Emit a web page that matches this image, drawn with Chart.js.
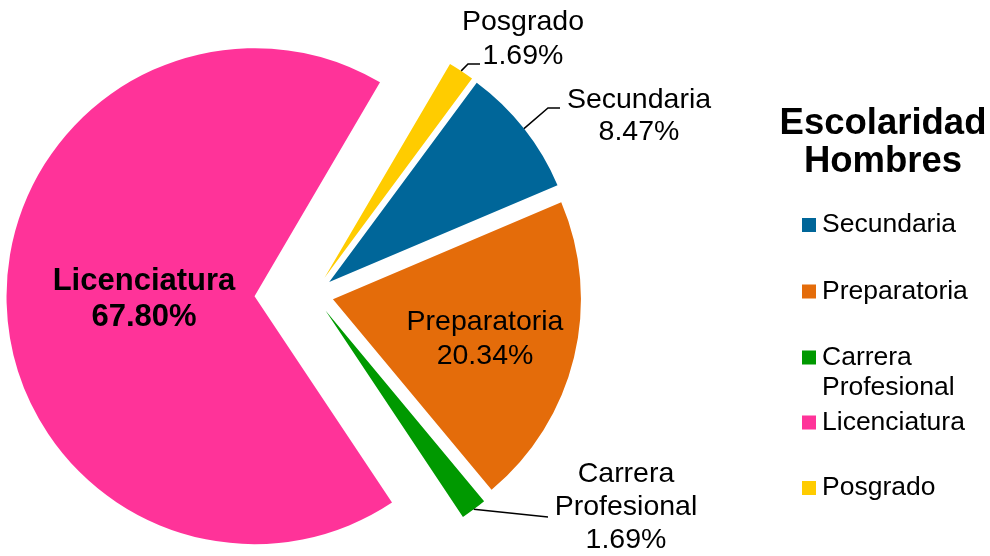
<!DOCTYPE html>
<html><head><meta charset="utf-8">
<script src="https://cdn.jsdelivr.net/npm/chart.js@4/dist/chart.umd.min.js"></script>
<style>html,body{margin:0;padding:0;background:#fff;}#wrap{width:990px;height:556px;}</style>
</head><body><div id="wrap"><canvas id="c" width="990" height="556"></canvas></div>
<script>
// ---- data ----
const categories = ['Secundaria', 'Preparatoria', 'Carrera Profesional', 'Licenciatura', 'Posgrado'];
const counts = [5, 12, 1, 40, 1];
const legendTitle = ['Escolaridad', 'Hombres'];

// ---- style ----
const colors = ['#006699', '#E46C0A', '#009900', '#FF3399', '#FFCC00'];
const FONT = '"Liberation Sans", Arial, sans-serif';
const explode = [20, 20, 20, 59, 20];
const labelLayout = [
  {x: 639, y: 100, size: 28.5, bold: false, gap: 32.5, leader: [[548, 108], [560, 108]]},
  {x: 485, y: 322.5, size: 28.5, bold: false, gap: 33.5, leader: null},
  {x: 626, y: 474, size: 28.5, bold: false, gap: 33, leader: [[548, 517]]},
  {x: 144, y: 281, size: 31, bold: true, gap: 36.5, leader: null},
  {x: 523, y: 22.5, size: 28.5, bold: false, gap: 34, leader: [[468, 64], [480, 64]]}
];
const legendLayout = {titleX: 883, titleY: 124, titleGap: 38, titleSize: 36.5,
  boxX: 802, box: 14, textX: 822, ys: [225, 291.5, 357.5, 422.5, 488], size: 26.5, lineGap: 30};

const total = counts.reduce((a, b) => a + b, 0);
const pct = v => (v / total * 100).toFixed(2) + '%';

const explodePlugin = {
  id: 'explode',
  beforeDatasetDraw(chart, args) {
    const ctx = chart.ctx;
    args.meta.data.forEach((arc, i) => {
      const h = (arc.startAngle + arc.endAngle) / 2;
      ctx.save();
      ctx.translate(Math.cos(h) * explode[i], Math.sin(h) * explode[i]);
      arc.draw(ctx);
      ctx.restore();
    });
    return false;
  }
};

const labelPlugin = {
  id: 'labels',
  afterDraw(chart) {
    const ctx = chart.ctx;
    const meta = chart.getDatasetMeta(0);
    ctx.save();
    meta.data.forEach((arc, i) => {
      const L = labelLayout[i];
      const h = (arc.startAngle + arc.endAngle) / 2;
      if (L.leader) {
        const sx = arc.x + Math.cos(h) * (explode[i] + arc.outerRadius);
        const sy = arc.y + Math.sin(h) * (explode[i] + arc.outerRadius);
        ctx.beginPath();
        ctx.moveTo(sx, sy);
        L.leader.forEach(p => ctx.lineTo(p[0], p[1]));
        ctx.strokeStyle = '#000';
        ctx.lineWidth = 1.5;
        ctx.stroke();
      }
      const lines = categories[i].split(' ').concat([pct(counts[i])]);
      ctx.fillStyle = '#000';
      ctx.font = (L.bold ? 'bold ' : '') + L.size + 'px ' + FONT;
      ctx.textAlign = 'center';
      ctx.textBaseline = 'middle';
      lines.forEach((t, k) => ctx.fillText(t, L.x, L.y + k * L.gap));
    });
    // legend
    const G = legendLayout;
    ctx.font = 'bold ' + G.titleSize + 'px ' + FONT;
    ctx.textAlign = 'center';
    legendTitle.forEach((t, k) => ctx.fillText(t, G.titleX, G.titleY + k * G.titleGap));
    ctx.font = G.size + 'px ' + FONT;
    ctx.textAlign = 'left';
    categories.forEach((c, i) => {
      const y = G.ys[i];
      ctx.fillStyle = colors[i];
      ctx.fillRect(G.boxX, y - G.box / 2, G.box, G.box);
      ctx.fillStyle = '#000';
      c.split(' ').forEach((t, k) => ctx.fillText(t, G.textX, y + k * G.lineGap));
    });
    ctx.restore();
  }
};

new Chart(document.getElementById('c'), {
  type: 'pie',
  data: {
    labels: categories,
    datasets: [{data: counts, backgroundColor: colors, borderWidth: 0, hoverOffset: 0}]
  },
  options: {
    responsive: false,
    animation: false,
    devicePixelRatio: 1,
    rotation: 36.5,
    radius: 248,
    layout: {padding: {left: 0, right: 363, top: 33, bottom: 0}},
    events: [],
    plugins: {legend: {display: false}, tooltip: {enabled: false}, title: {display: false}}
  },
  plugins: [explodePlugin, labelPlugin]
});
</script></body></html>
